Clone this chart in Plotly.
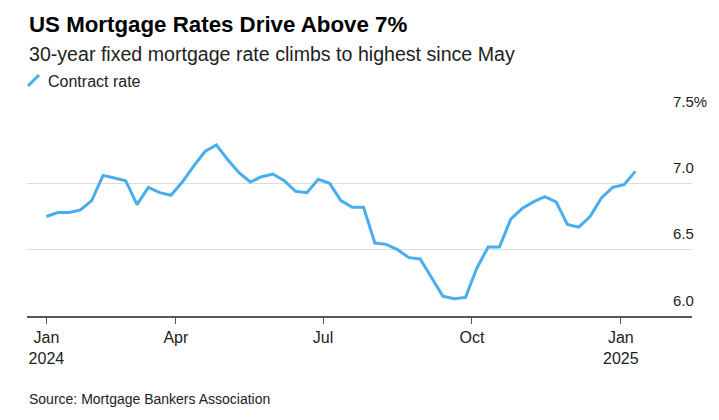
import pandas as pd
import plotly.graph_objects as go

# ---- data ----
start_date = "2024-01-12"
contract_rate = [6.75, 6.78, 6.78, 6.80, 6.87, 7.06, 7.04, 7.02, 6.84, 6.97, 6.93, 6.91,
                 7.01, 7.13, 7.24, 7.29, 7.18, 7.08, 7.01, 7.05, 7.07, 7.02, 6.94, 6.93,
                 7.03, 7.00, 6.87, 6.82, 6.82, 6.55, 6.54, 6.50, 6.44, 6.43, 6.29, 6.15,
                 6.13, 6.14, 6.36, 6.52, 6.52, 6.73, 6.81, 6.86, 6.90, 6.86, 6.69, 6.67,
                 6.75, 6.89, 6.97, 6.99, 7.09]
dates = pd.date_range(start_date, periods=len(contract_rate), freq="7D")

x_tick_vals = ["2024-01-12", "2024-04-01", "2024-07-01", "2024-10-01", "2025-01-01"]
x_tick_text = ["Jan<br>2024", "Apr", "Jul", "Oct", "Jan<br>2025"]
y_tick_vals = [6.0, 6.5, 7.0, 7.5]
y_tick_text = ["6.0", "6.5", "7.0", "7.5%"]

title = "US Mortgage Rates Drive Above 7%"
subtitle = "30-year fixed mortgage rate climbs to highest since May"
series_name = "Contract rate"
source = "Source: Mortgage Bankers Association"

# ---- layout constants ----
W, H = 719, 420
ML, MR, MT, MB = 27, 27, 117, 104
PW, PH = W - ML - MR, H - MT - MB
LINE_COLOR = "#4AAEEC"
FONT = "Liberation Sans, Arial, Helvetica, sans-serif"


def px_x(px):
    return (px - ML) / PW


def px_y(py):
    return (H - MB - py) / PH


fig = go.Figure()
fig.add_trace(go.Scatter(
    x=dates, y=contract_rate, mode="lines", name=series_name,
    line=dict(color=LINE_COLOR, width=3), showlegend=False,
    hoverinfo="skip",
))

fig.update_layout(
    width=W, height=H,
    margin=dict(l=ML, r=MR, t=MT, b=MB, pad=0),
    paper_bgcolor="white", plot_bgcolor="white",
    font=dict(family=FONT, size=14, color="#222222"),
    xaxis=dict(
        type="date",
        range=["2023-12-31", "2025-02-14"],
        tickvals=x_tick_vals, ticktext=x_tick_text,
        ticks="outside", ticklen=6, tickwidth=1, tickcolor="#555555",
        showgrid=False, zeroline=False,
        showline=True, linecolor="#555555", linewidth=1.5,
        tickfont=dict(size=16, color="#222222"),
        fixedrange=True,
    ),
    yaxis=dict(
        range=[6.0, 7.5],
        tickvals=y_tick_vals, showticklabels=False,
        showgrid=True, gridcolor="#dddddd", gridwidth=1,
        zeroline=False, showline=False, fixedrange=True,
    ),
)

annotations = []
for v, t in zip(y_tick_vals, y_tick_text):
    annotations.append(dict(
        x=px_x(671), y=v, xref="paper", yref="y", text=t, showarrow=False,
        xanchor="left", yanchor="middle", yshift=16,
        font=dict(size=15, color="#222222"),
    ))

annotations += [
    dict(x=0, y=px_y(24), xref="paper", yref="paper", text="<b>" + title + "</b>",
         showarrow=False, xanchor="left", yanchor="middle",
         font=dict(size=22.3, color="#000000")),
    dict(x=0, y=px_y(54), xref="paper", yref="paper", text=subtitle,
         showarrow=False, xanchor="left", yanchor="middle",
         font=dict(size=19.6, color="#222222")),
    dict(x=px_x(46), y=px_y(81), xref="paper", yref="paper", text=series_name,
         showarrow=False, xanchor="left", yanchor="middle",
         font=dict(size=16, color="#222222")),
    dict(x=0, y=px_y(399), xref="paper", yref="paper", text=source,
         showarrow=False, xanchor="left", yanchor="middle",
         font=dict(size=14, color="#222222")),
]

fig.update_layout(
    annotations=annotations,
    shapes=[dict(
        type="line", xref="paper", yref="paper",
        x0=px_x(28), y0=px_y(86), x1=px_x(39), y1=px_y(75),
        line=dict(color=LINE_COLOR, width=3),
    )],
)

fig.write_html("out.html", config={"displayModeBar": False})
